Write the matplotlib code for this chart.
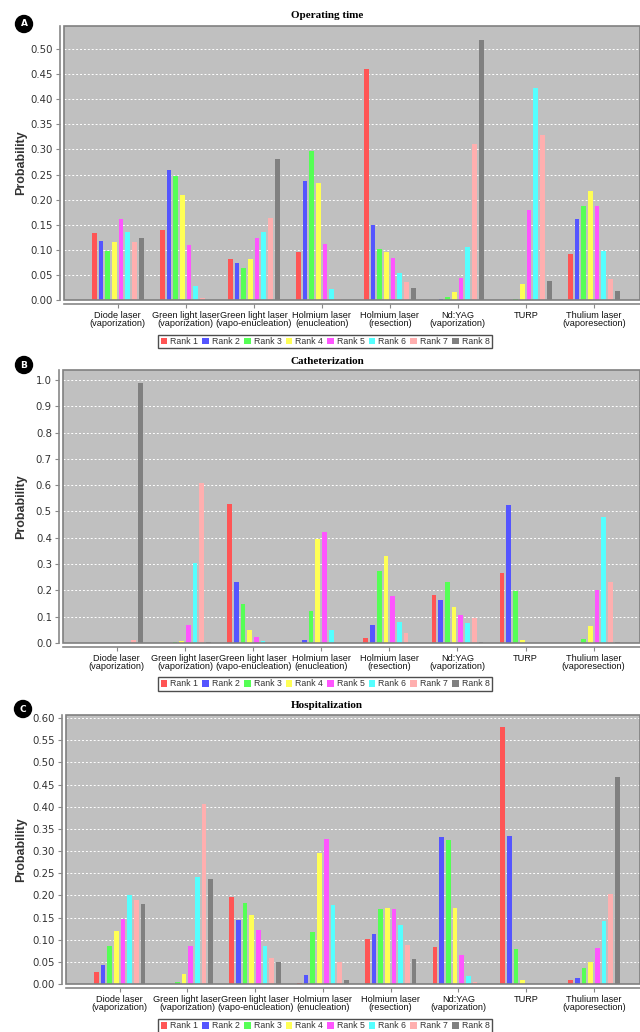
import matplotlib
matplotlib.use("Agg")
import matplotlib.pyplot as plt
from matplotlib.patches import Patch, Rectangle, Ellipse
import numpy as np

categories = ["Diode laser\n(vaporization)", "Green light laser\n(vaporization)",
              "Green light laser\n(vapo-enucleation)", "Holmium laser\n(enucleation)",
              "Holmium laser\n(resection)", "Nd:YAG\n(vaporization)", "TURP",
              "Thulium laser\n(vaporesection)"]
ranks = ["Rank 1", "Rank 2", "Rank 3", "Rank 4", "Rank 5", "Rank 6", "Rank 7", "Rank 8"]
colors = ["#ff5555", "#5555ff", "#55ff55", "#ffff55", "#ff55ff", "#55ffff", "#ffafaf", "#808080"]

# values[category][rank]
operating_time = [
    [0.133, 0.118, 0.097, 0.116, 0.162, 0.136, 0.115, 0.123],
    [0.140, 0.260, 0.248, 0.210, 0.110, 0.028, 0.003, 0.000],
    [0.082, 0.074, 0.063, 0.081, 0.123, 0.136, 0.163, 0.280],
    [0.095, 0.238, 0.297, 0.234, 0.111, 0.021, 0.002, 0.000],
    [0.460, 0.150, 0.101, 0.096, 0.083, 0.053, 0.036, 0.023],
    [0.000, 0.002, 0.006, 0.015, 0.044, 0.105, 0.310, 0.519],
    [0.000, 0.000, 0.002, 0.031, 0.180, 0.423, 0.329, 0.037],
    [0.091, 0.161, 0.188, 0.218, 0.187, 0.098, 0.041, 0.017],
]
catheterization = [
    [0.000, 0.000, 0.000, 0.000, 0.000, 0.000, 0.010, 0.987],
    [0.000, 0.000, 0.002, 0.008, 0.067, 0.306, 0.610, 0.004],
    [0.529, 0.233, 0.150, 0.051, 0.022, 0.008, 0.004, 0.000],
    [0.000, 0.010, 0.122, 0.396, 0.421, 0.048, 0.002, 0.000],
    [0.019, 0.069, 0.273, 0.332, 0.180, 0.080, 0.039, 0.000],
    [0.181, 0.164, 0.233, 0.137, 0.105, 0.075, 0.095, 0.005],
    [0.268, 0.524, 0.198, 0.010, 0.000, 0.000, 0.000, 0.000],
    [0.000, 0.001, 0.016, 0.065, 0.203, 0.478, 0.232, 0.002],
]
hospitalization = [
    [0.028, 0.044, 0.086, 0.120, 0.146, 0.200, 0.190, 0.181],
    [0.000, 0.000, 0.004, 0.023, 0.085, 0.241, 0.407, 0.237],
    [0.197, 0.145, 0.183, 0.155, 0.122, 0.086, 0.059, 0.049],
    [0.002, 0.021, 0.118, 0.296, 0.327, 0.178, 0.050, 0.008],
    [0.102, 0.113, 0.169, 0.171, 0.169, 0.133, 0.087, 0.056],
    [0.083, 0.331, 0.325, 0.172, 0.066, 0.017, 0.004, 0.000],
    [0.579, 0.333, 0.078, 0.009, 0.000, 0.000, 0.000, 0.000],
    [0.008, 0.014, 0.035, 0.050, 0.081, 0.143, 0.203, 0.466],
]

titles = ["Operating time", "Catheterization", "Hospitalization"]
letters = ["A", "B", "C"]
ymaxes = [0.546, 1.038, 0.607]
ytick_steps = [0.05, 0.1, 0.05]
ytick_tops = [0.50, 1.0, 0.60]
yfmts = ["%.2f", "%.1f", "%.2f"]

W, H = 640, 1032
fig = plt.figure(figsize=(W / 100, H / 100), dpi=100)

# pixel boxes: left, top, right, bottom
boxes = [(64, 26, 640, 300), (63, 370, 640, 643), (66, 715, 640, 984)]
title_y = [15, 361, 705]
letter_pos = [(24, 24), (24, 365), (23, 709)]
legend_y = [341.5, 684, 1026]

datasets = [operating_time, catheterization, hospitalization]

pitch = 0.0985
bw = 0.069
x = np.arange(len(categories))

for i, data in enumerate(datasets):
    l, t, r, b = boxes[i]
    ax = fig.add_axes([l / W, 1 - b / H, (r - l) / W, (b - t) / H])
    ax.set_facecolor("#c0c0c0")
    for s in ["top", "right"]:
        ax.spines[s].set_visible(False)
    for s in ["left", "bottom"]:
        ax.spines[s].set_position(("outward", 3))
        ax.spines[s].set_color("#888888")
        ax.spines[s].set_linewidth(1.2)
    arr = np.array(data)
    for k in range(len(ranks)):
        offs = (k - 3.5) * pitch
        ax.bar(x + offs, arr[:, k], width=bw, color=colors[k], linewidth=0, zorder=3)
    ax.set_xlim(-0.79, 7.68)
    ax.set_ylim(0, ymaxes[i])
    yt = np.arange(0, ytick_tops[i] + 1e-9, ytick_steps[i])
    ax.set_yticks(yt)
    ax.set_yticklabels([yfmts[i] % v for v in yt], fontsize=7.3, color="#333333",
                       family="DejaVu Sans")
    ax.set_xticks(x)
    ax.set_xticklabels(categories, fontsize=6.6, family="Liberation Sans", linespacing=0.85,
                       color="#111111")
    ax.yaxis.grid(True, color="white", linestyle=(0, (2, 2)), linewidth=0.7, zorder=1)
    ax.set_axisbelow(True)
    ax.tick_params(axis="y", length=3, width=0.8, color="#888888", pad=2)
    ax.tick_params(axis="x", length=3, width=0.8, color="#888888", pad=2)
    ax.add_patch(Rectangle((0, 0), 1, 1, transform=ax.transAxes, fill=False,
                           edgecolor="#808080", linewidth=1.2, clip_on=False, zorder=5))
    fig.text(21 / W, 1 - ((t + b) / 2) / H, "Probability", rotation=90, ha="center",
             va="center", fontsize=9, fontweight="bold", family="Liberation Sans",
             color="#333333")
    fig.text(0.511, 1 - title_y[i] / H, titles[i], ha="center", va="center",
             fontsize=8, fontweight="bold", family="Liberation Serif")
    cx, cy = letter_pos[i]
    fig.patches.append(Ellipse((cx / W, 1 - cy / H), 17 / W, 17 / H, transform=fig.transFigure,
                               facecolor="black", edgecolor="black", zorder=10))
    fig.text(cx / W, 1 - cy / H, letters[i], ha="center", va="center", color="white",
             fontsize=6.5, fontweight="bold", family="DejaVu Sans", zorder=11)
    handles = [Patch(facecolor=c, edgecolor="none", label=rk) for c, rk in zip(colors, ranks)]
    leg = fig.legend(handles=handles, loc="center", bbox_to_anchor=(0.508, 1 - legend_y[i] / H),
                     ncol=8, prop={"family": "Liberation Sans", "size": 6.3}, frameon=True,
                     fancybox=False, handlelength=0.77, handleheight=0.77, handletextpad=0.34,
                     columnspacing=0.46, borderpad=0.26, borderaxespad=0)
    leg.get_frame().set_edgecolor("#222222")
    leg.get_frame().set_linewidth(1.0)
    for txt in leg.get_texts():
        txt.set_color("#333333")

fig.savefig("out.png", dpi=100)
